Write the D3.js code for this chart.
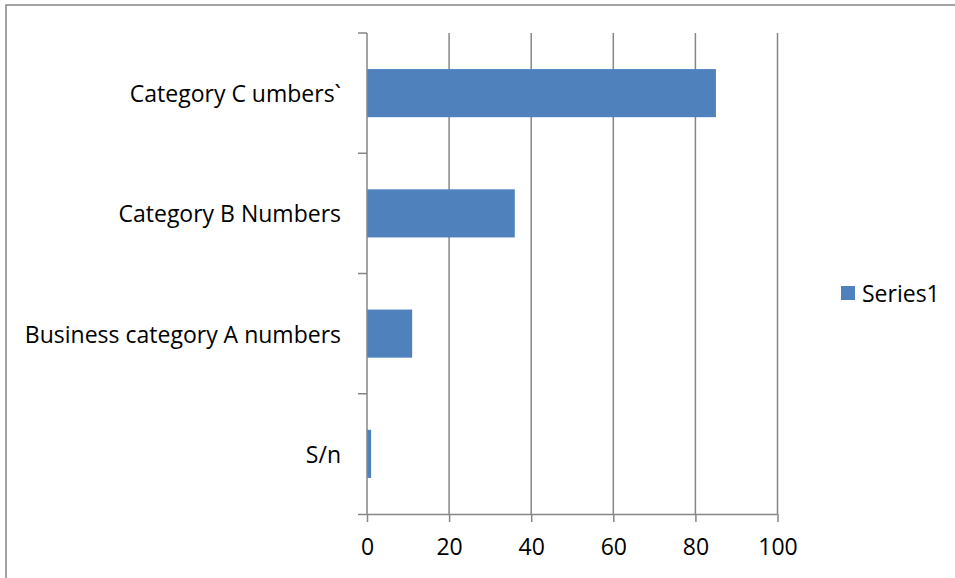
<!DOCTYPE html>
<html><head><meta charset="utf-8">
<script src="https://cdn.jsdelivr.net/npm/d3@7"></script>
<style>
html,body{margin:0;padding:0;background:#fff;}
svg{display:block;}
text{font-family:"Open Sans","Noto Sans",sans-serif;fill:#000;}
</style></head><body>
<svg id="c" width="955" height="578"></svg>
<script>
const categories = ["Category C umbers`", "Category B Numbers", "Business category A numbers", "S/n"];
const values = [85, 36, 11, 1];
const xTicks = [0, 20, 40, 60, 80, 100];
const seriesName = "Series1";

const svg = d3.select("#c");
const W = 955, H = 578;
const m = {left: 367, right: 177.5, top: 33, bottom: 64};
const gray = "#868686", blue = "#4F81BD";
const fs = 23;

// outer border (top and left visible)
svg.append("path").attr("d", `M6,${H} L6,5 L${W},5`).attr("fill","none").attr("stroke",gray).attr("stroke-width",1.5);

const x = d3.scaleLinear().domain([0,100]).range([m.left, W - m.right]);
const y = d3.scaleBand().domain(categories).range([m.top, H - m.bottom]).paddingInner(0.6).paddingOuter(0.3);

// gridlines
svg.append("g").selectAll("line").data(xTicks.filter(d=>d>0)).join("line")
  .attr("x1", d=>x(d)).attr("x2", d=>x(d))
  .attr("y1", m.top).attr("y2", H - m.bottom)
  .attr("stroke", gray).attr("stroke-width", 1.5);

// bars
svg.append("g").selectAll("rect").data(values).join("rect")
  .attr("x", x(0)).attr("y", (d,i)=>y(categories[i]))
  .attr("width", d=>x(d)-x(0)).attr("height", y.bandwidth())
  .attr("fill", blue);

// x axis
const xa = svg.append("g").attr("transform", `translate(0,${H - m.bottom})`)
  .call(d3.axisBottom(x).tickValues(xTicks).tickSize(8).tickPadding(17).tickSizeOuter(0));
xa.select(".domain").attr("stroke", gray).attr("stroke-width",1.5).attr("d", `M${x(0)-9},0.5H${x(100)}`);
xa.selectAll(".tick line").attr("stroke", gray).attr("stroke-width",1.5);
xa.selectAll(".tick text").attr("font-size", fs).attr("font-family", '"Open Sans",sans-serif').attr("fill","#000");

// y axis
const step = y.step();
const bounds = d3.range(categories.length + 1).map(i => m.top + i * step);
svg.append("line").attr("x1", x(0)).attr("x2", x(0)).attr("y1", m.top).attr("y2", H - m.bottom)
  .attr("stroke", gray).attr("stroke-width", 1.5);
svg.append("g").selectAll("line").data(bounds.slice(0, -1)).join("line")
  .attr("x1", x(0)-9).attr("x2", x(0)).attr("y1", d=>d).attr("y2", d=>d)
  .attr("stroke", gray).attr("stroke-width", 1.5);

svg.append("g").selectAll("text").data(categories).join("text")
  .attr("x", x(0) - 26).attr("y", d=>y(d) + y.bandwidth()/2)
  .attr("text-anchor","end").attr("dominant-baseline","central")
  .attr("font-size", fs).text(d=>d);

// legend
const lg = svg.append("g").attr("transform","translate(841,286)");
lg.append("rect").attr("width",14).attr("height",14).attr("fill",blue);
lg.append("text").attr("x",21).attr("y",7).attr("dominant-baseline","central").attr("font-size",fs).text(seriesName);
</script>
</body></html>
